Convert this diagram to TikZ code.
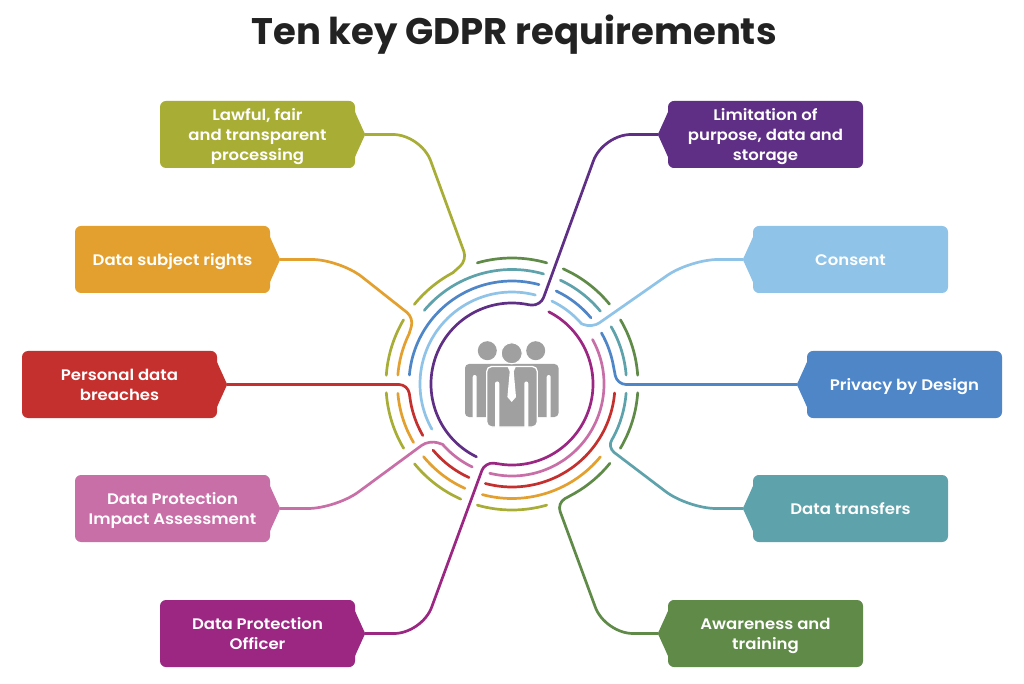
\documentclass[tikz,border=0pt]{standalone}
\usepackage{fontspec}
\setmainfont{Poppins}[BoldFont=Poppins SemiBold,FakeStretch=1.08]
\newfontfamily\titlefont{Poppins Bold}
\usetikzlibrary{calc}
\definecolor{cOlive}{HTML}{A8AD36}
\definecolor{cOrange}{HTML}{E3A02F}
\definecolor{cRed}{HTML}{C3302E}
\definecolor{cPink}{HTML}{C96FA8}
\definecolor{cMagenta}{HTML}{9B2783}
\definecolor{cPurple}{HTML}{5F2F86}
\definecolor{cSky}{HTML}{90C3E8}
\definecolor{cBlue}{HTML}{4E86C8}
\definecolor{cTeal}{HTML}{5EA2AB}
\definecolor{cGreen}{HTML}{5F8A47}
\definecolor{cIcon}{HTML}{A0A0A0}
\definecolor{cTitle}{HTML}{222222}
\tikzset{
  ring/.style={line width=2.7pt,line cap=round,line join=round},
  tagbox/.style={rounded corners=6pt,minimum width=195pt,minimum height=67pt,inner sep=0pt,
    align=center,text=white,font=\fontsize{15.3}{20}\selectfont\bfseries},
}
\newcommand\ringarc[4]{\draw[ring,#1] ($(hub)+(#3:#2pt)$) arc[start angle=#3,end angle=#4,radius=#2pt];}
% name, centre x, centre y, colour, text : tag points right
\newcommand\boxL[5]{%
  \node[tagbox,fill=#4] (#1) at (#2,#3) {\rule{0pt}{17pt}#5\rule[-5pt]{0pt}{5pt}};
  \coordinate (#1tip) at ($(#1.east)+(10,0)$);
  \fill[#4] ($(#1.north east)+(-5,0)$) .. controls ($(#1.north east)+(1,-14)$) .. (#1tip)
     .. controls ($(#1.south east)+(1,14)$) .. ($(#1.south east)+(-5,0)$) -- cycle;}
% tag points left
\newcommand\boxR[5]{%
  \node[tagbox,fill=#4] (#1) at (#2,#3) {\rule{0pt}{17pt}#5\rule[-5pt]{0pt}{5pt}};
  \coordinate (#1tip) at ($(#1.west)+(-10,0)$);
  \fill[#4] ($(#1.north west)+(5,0)$) .. controls ($(#1.north west)+(-1,-14)$) .. (#1tip)
     .. controls ($(#1.south west)+(-1,14)$) .. ($(#1.south west)+(5,0)$) -- cycle;}
\begin{document}
\begin{tikzpicture}[x=1pt,y=1pt]
\useasboundingbox (0,0) rectangle (1024,683);
\fill[white] (0,0) rectangle (1024,683);
\node[font=\fontsize{37}{40}\selectfont\titlefont,text=cTitle,inner sep=0pt] (title) at (514,648) {Ten key GDPR requirements};
\coordinate (hub) at (512,299);
% free arcs
\ringarc{cSky}{92}{209.4}{75.3}
\ringarc{cPink}{92}{28.9}{-104}
\ringarc{cBlue}{103}{175}{74.8}
\ringarc{cBlue}{103}{64.6}{40}
\ringarc{cRed}{103}{-5}{-105}
\ringarc{cRed}{103}{245.3}{220}
\ringarc{cOrange}{114.5}{184.7}{210.7}
\ringarc{cOrange}{114.5}{219.4}{245.7}
\ringarc{cOrange}{114.5}{255}{320.5}
\ringarc{cTeal}{114.5}{74}{140}
\ringarc{cTeal}{114.5}{39.5}{65}
\ringarc{cTeal}{114.5}{4.5}{30}
\ringarc{cOlive}{126}{176}{149.4}
\ringarc{cOlive}{126}{184}{210.7}
\ringarc{cOlive}{126}{219.3}{246}
\ringarc{cOlive}{126}{254}{286}
\ringarc{cGreen}{126}{74}{106}
\ringarc{cGreen}{126}{39.3}{66}
\ringarc{cGreen}{126}{4}{30.6}
\ringarc{cGreen}{126}{-4}{-30.7}
% boxes
\boxL{lawful}{257.5}{548.5}{cOlive}{Lawful, fair\\and transparent\\processing}
\boxL{rights}{172.5}{423.5}{cOrange}{Data subject rights}
\boxL{breach}{119.5}{298.5}{cRed}{Personal data\\breaches}
\boxL{dpia}{172.5}{174.5}{cPink}{Data Protection\\Impact Assessment}
\boxL{dpo}{257.5}{49.5}{cMagenta}{Data Protection\\Officer}
\boxR{limit}{765.5}{548.5}{cPurple}{Limitation of\\purpose, data and\\storage}
\boxR{consent}{850.5}{423.5}{cSky}{Consent}
\boxR{design}{904.5}{298.5}{cBlue}{Privacy by Design}
\boxR{transfer}{850.5}{174.5}{cTeal}{Data transfers}
\boxR{aware}{765.5}{49.5}{cGreen}{Awareness and\\training}
% connectors
\draw[ring,cOlive] ($(hub)+(140.8:126pt)$) arc[start angle=140.8,end angle=118,radius=126pt]
  [rounded corners=9pt] -- (467,423) [rounded corners=28pt] -- (421,548.5) -- (lawfultip);
\draw[ring,cOrange] ($(hub)+(175.5:114.5pt)$) arc[start angle=175.5,end angle=154,radius=114.5pt]
  [rounded corners=9pt] -- (414,365) [rounded corners=28pt] -- (340,423.5) -- (rightstip);
\draw[ring,cRed] ($(hub)+(210:103pt)$) arc[start angle=210,end angle=190,radius=103pt]
  [rounded corners=9pt] -- (408,298.5) -- (breachtip);
\draw[ring,cPink] ($(hub)+(244.4:92pt)$) arc[start angle=244.4,end angle=221,radius=92pt]
  [rounded corners=9pt] -- (429,243) [rounded corners=28pt] -- (336,174.5) -- (dpiatip);
\draw[ring,cMagenta] ($(hub)+(63:81pt)$) arc[start angle=63,end angle=-100,radius=81pt]
  [rounded corners=9pt] -- (485,221) [rounded corners=28pt] -- (422,49.5) -- (dpotip);
\draw[ring,cPurple] ($(hub)+(244:81pt)$) arc[start angle=244,end angle=78,radius=81pt]
  [rounded corners=9pt] -- (540.5,377) [rounded corners=28pt] -- (603,548.5) -- (limittip);
\draw[ring,cSky] ($(hub)+(64.3:92pt)$) arc[start angle=64.3,end angle=41,radius=92pt]
  [rounded corners=9pt] -- (592,355) [rounded corners=28pt] -- (690,423.5) -- (consenttip);
\draw[ring,cBlue] ($(hub)+(29.7:103pt)$) arc[start angle=29.7,end angle=10,radius=103pt]
  [rounded corners=9pt] -- (617,298.5) -- (designtip);
\draw[ring,cTeal] ($(hub)+(-4.6:114.5pt)$) arc[start angle=-4.6,end angle=-28,radius=114.5pt]
  [rounded corners=9pt] -- (607,236) [rounded corners=28pt] -- (688,174.5) -- (transfertip);
\draw[ring,cGreen] ($(hub)+(-39:126pt)$) arc[start angle=-39,end angle=-60,radius=126pt]
  [rounded corners=9pt] -- (557,180) [rounded corners=28pt] -- (605,49.5) -- (awaretip);
% people icon
\fill[cIcon,rounded corners=4pt] (465,266) rectangle (558.5,319);
\fill[white,rounded corners=2pt] (472.7,264) rectangle (476.7,308);
\fill[white,rounded corners=2pt] (546.7,264) rectangle (550.7,308);
\fill[cIcon] (487.3,332.3) circle[radius=9.5pt];
\fill[cIcon] (535.7,332.3) circle[radius=9.5pt];
\draw[white,line width=1.3pt,fill=cIcon,rounded corners=5pt] (486.7,256) rectangle (537.3,316.5);
\fill[white,rounded corners=2pt] (495,254) rectangle (499.3,301.5);
\fill[white,rounded corners=2pt] (524.3,254) rectangle (528.3,301.5);
\draw[white,line width=1pt,fill=cIcon] (511.7,329.7) circle[radius=10.5pt];
\fill[white] (507.7,316) -- (515.7,316) -- (513.7,311.5) -- (516,286) -- (511.7,281) -- (507.4,286) -- (509.7,311.5) -- cycle;
\end{tikzpicture}
\end{document}
